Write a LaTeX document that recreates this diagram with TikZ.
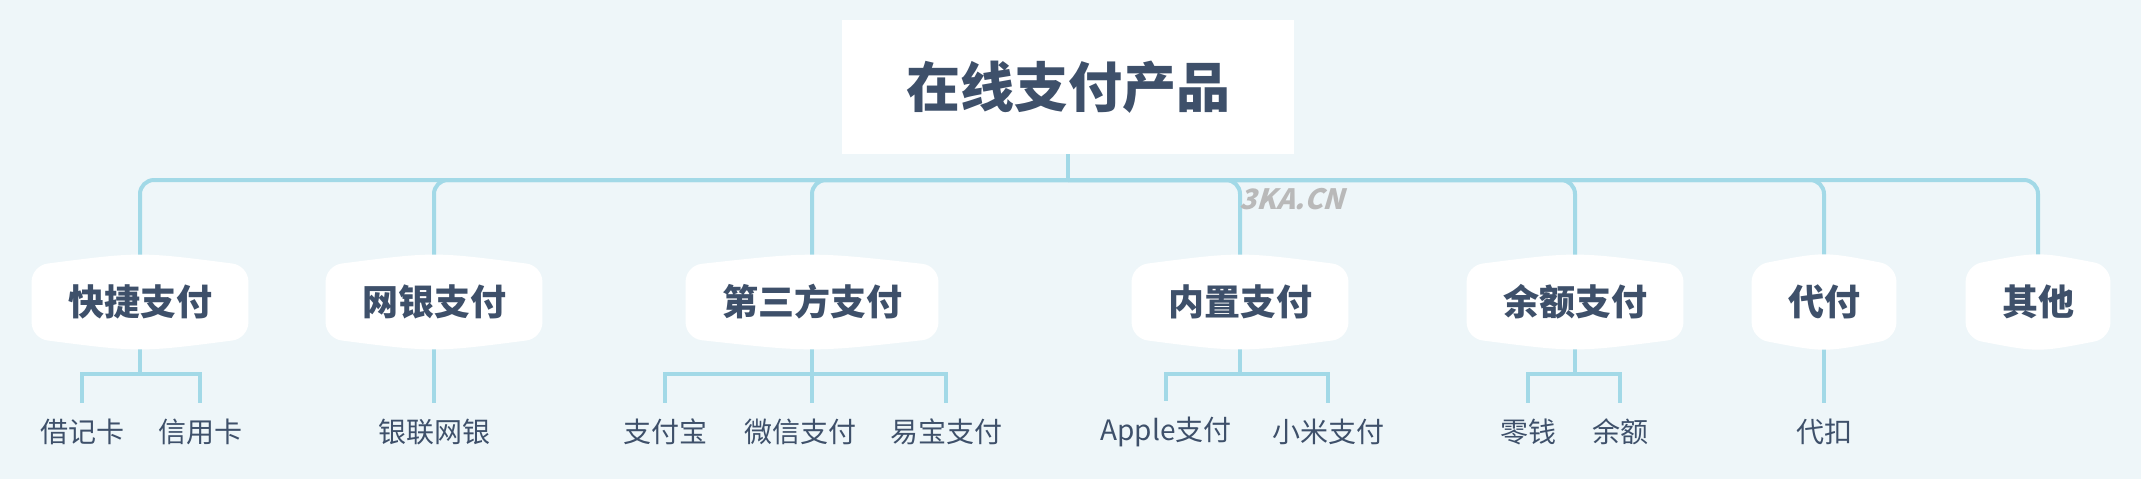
\documentclass[tikz,border=0pt]{standalone}
\usepackage{fontspec}
\setmainfont{Noto Sans CJK SC}
\usetikzlibrary{calc,backgrounds}
\definecolor{bgcol}{HTML}{EEF6F9}
\definecolor{linecol}{HTML}{A2D9E7}
\definecolor{txtcol}{HTML}{3E506A}
\pgfdeclarelayer{bottom}
\pgfsetlayers{bottom,background,main}
\begin{document}
\begin{tikzpicture}[x=0.5pt, y=-0.5pt]
    \tikzset{root/.style={rectangle, fill=white, text=txtcol, font=\bfseries\fontsize{27}{32}\selectfont, minimum width=226pt, minimum height=67pt},
             branch/.style={rectangle, text=txtcol, font=\bfseries\fontsize{18}{22}\selectfont, minimum height=36pt},
             leaf/.style={text=txtcol, font=\fontsize{14}{17}\selectfont, inner ysep=8pt},
             link/.style={draw=linecol, line width=2pt},
             bus/.style={link, rounded corners=7pt}}
    \begin{pgfonlayer}{bottom}
    \fill[bgcol] (0,0) rectangle (2141,479);
    \end{pgfonlayer}
    \node (root) [root] at (1068,87) {在线支付产品};
    % main branches
    \node (kuaijie) [branch, minimum width=108pt] at (140,302) {快捷支付};
    \node (wangyin) [branch, minimum width=108pt] at (434,302) {网银支付};
    \node (disanfang) [branch, minimum width=126pt] at (812,302) {第三方支付};
    \node (neizhi) [branch, minimum width=108pt] at (1240,302) {内置支付};
    \node (yue) [branch, minimum width=108pt] at (1575,302) {余额支付};
    \node (daifu) [branch, minimum width=72pt] at (1824,302) {代付};
    \node (qita) [branch, minimum width=72pt] at (2038,302) {其他};
    % leaves
    \node (jieji) [leaf] at (82,432) {借记卡};
    \node (xinyong) [leaf] at (200,432) {信用卡};
    \node (yinlian) [leaf] at (434,432) {银联网银};
    \node (zfb) [leaf] at (665,432) {支付宝};
    \node (weixin) [leaf] at (800,432) {微信支付};
    \node (yibao) [leaf] at (946,432) {易宝支付};
    \node (apple) [leaf] at (1166,432) {Apple支付};
    \node (xiaomi) [leaf] at (1328,432) {小米支付};
    \node (lingqian) [leaf] at (1528,432) {零钱};
    \node (yuee) [leaf] at (1620,432) {余额};
    \node (daikou) [leaf] at (1824,432) {代扣};
    \node (mark) [font=\bfseries\fontsize{14}{16}\selectfont, text=gray!55, xslant=0.3] at (1295,199) {3KA.CN};

    \coordinate (hub) at (1068,180);
    \begin{scope}[on background layer]
    \draw [link] (root.south) -- (hub);
    \foreach \b in {kuaijie,wangyin,disanfang,neizhi,yue,daifu,qita}
        \draw [bus] (hub) -| (\b.north);
    \draw [link] (kuaijie.south) -- ++(0,36) -| (jieji.north);
    \draw [link] (kuaijie.south) -- ++(0,36) -| (xinyong.north);
    \draw [link] (wangyin.south) -- (yinlian.north);
    \draw [link] (disanfang.south) -- ++(0,36) -| (zfb.north);
    \draw [link] (disanfang.south) -- (disanfang.south |- weixin.north);
    \draw [link] (disanfang.south) -- ++(0,36) -| (yibao.north);
    \draw [link] (neizhi.south) -- ++(0,36) -| (apple.north);
    \draw [link] (neizhi.south) -- ++(0,36) -| (xiaomi.north);
    \draw [link] (yue.south) -- ++(0,36) -| (lingqian.north);
    \draw [link] (yue.south) -- ++(0,36) -| (yuee.north);
    \draw [link] (daifu.south) -- (daikou.north);
    % white bulged shapes behind branch texts
    \foreach \b in {kuaijie,wangyin,disanfang,neizhi,yue,daifu,qita}
        \fill [white, rounded corners=8pt] (\b.north west) .. controls ($(\b.north)+(0,-14)$) .. (\b.north east)
            -- (\b.south east) .. controls ($(\b.south)+(0,14)$) .. (\b.south west) -- cycle;
    \end{scope}
\end{tikzpicture}
\end{document}
